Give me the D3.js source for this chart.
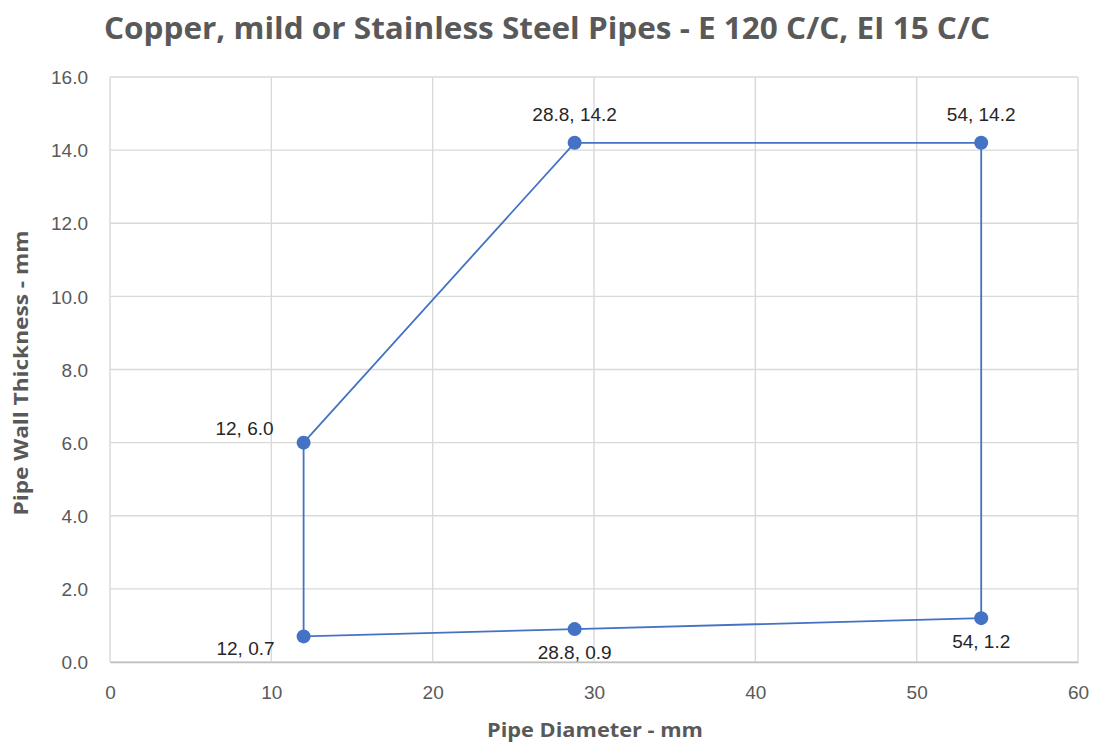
<!DOCTYPE html>
<html><head><meta charset="utf-8">
<script src="https://cdn.jsdelivr.net/npm/d3@7"></script>
<style>body{margin:0;background:#fff;}svg{display:block;}</style>
</head><body>
<svg id="c" width="1095" height="746"></svg>
<script>
const xs = [12, 28.8, 54, 54, 28.8, 12];
const ys = [6.0, 14.2, 14.2, 1.2, 0.9, 0.7];
const labels = ["12, 6.0", "28.8, 14.2", "54, 14.2", "54, 1.2", "28.8, 0.9", "12, 0.7"];
const labelPos = ["leftAbove", "above", "above", "below", "below", "leftBelow"];
const xTicks = [0, 10, 20, 30, 40, 50, 60];
const yTicks = [0, 2, 4, 6, 8, 10, 12, 14, 16];
const title = "Copper, mild or Stainless Steel Pipes - E 120 C/C, EI 15 C/C";

const svg = d3.select("#c");
const m = {l: 110, r: 1078, t: 77, b: 662};
const x = d3.scaleLinear().domain([0, 60]).range([m.l, m.r]);
const y = d3.scaleLinear().domain([0, 16]).range([m.b, m.t]);
const grid = "#d9d9d9", txt = "#595959";

// grid
svg.append("g").selectAll("line").data(yTicks).join("line")
  .attr("x1", m.l).attr("x2", m.r).attr("y1", d => y(d)).attr("y2", d => y(d))
  .attr("stroke", grid).attr("stroke-width", 1.4);
svg.append("g").selectAll("line").data(xTicks).join("line")
  .attr("y1", m.t).attr("y2", m.b).attr("x1", d => x(d)).attr("x2", d => x(d))
  .attr("stroke", grid).attr("stroke-width", 1.4);

// axes labels
const xa = d3.axisBottom(x).tickValues(xTicks).tickSize(0).tickFormat(d3.format("d"));
svg.append("g").attr("transform", `translate(0,${m.b})`).call(xa)
  .call(g => g.select(".domain").attr("stroke", "#bfbfbf").attr("stroke-width", 1.4))
  .call(g => g.selectAll("text").attr("dy", 0).attr("y", 37).attr("fill", txt)
    .style("font-family", "Liberation Sans, Arial, sans-serif").style("font-size", "19px"));
const ya = d3.axisLeft(y).tickValues(yTicks).tickSize(0).tickFormat(d3.format(".1f"));
svg.append("g").attr("transform", `translate(${m.l},0)`).call(ya)
  .call(g => g.select(".domain").remove())
  .call(g => g.selectAll("text").attr("x", -22).attr("dy", "0.35em").attr("fill", txt)
    .style("font-family", "Liberation Sans, Arial, sans-serif").style("font-size", "19px"));

// title
svg.append("text").attr("x", 547).attr("y", 39).attr("text-anchor", "middle")
  .attr("fill", txt).style("font-family", "Open Sans, sans-serif").style("font-weight", "bold")
  .style("font-size", "30px").attr("textLength", 886).attr("lengthAdjust", "spacingAndGlyphs").text(title);
svg.append("text").attr("x", 595).attr("y", 737).attr("text-anchor", "middle")
  .attr("fill", txt).style("font-family", "Open Sans, sans-serif").style("font-weight", "bold")
  .style("font-size", "19.5px").attr("textLength", 216).attr("lengthAdjust", "spacingAndGlyphs").text("Pipe Diameter - mm");
svg.append("text").attr("transform", "translate(28,373) rotate(-90)").attr("text-anchor", "middle")
  .attr("fill", txt).style("font-family", "Open Sans, sans-serif").style("font-weight", "bold")
  .style("font-size", "19.5px").attr("textLength", 285).attr("lengthAdjust", "spacingAndGlyphs").text("Pipe Wall Thickness - mm");

// line
const pts = xs.map((v, i) => [v, ys[i]]);
const line = d3.line().x(d => x(d[0])).y(d => y(d[1])).curve(d3.curveLinearClosed);
svg.append("path").attr("d", line(pts)).attr("fill", "none")
  .attr("stroke", "#4472C4").attr("stroke-width", 1.8);

svg.append("g").selectAll("circle").data(pts).join("circle")
  .attr("cx", d => x(d[0])).attr("cy", d => y(d[1])).attr("r", 7).attr("fill", "#4472C4");

// labels
const off = {
  above: [0, -22, "middle"], below: [0, 30, "middle"],
  leftAbove: [-30, -8, "end"], leftBelow: [-29, 19, "end"]
};
svg.append("g").selectAll("text").data(pts).join("text")
  .attr("x", (d, i) => x(d[0]) + off[labelPos[i]][0])
  .attr("y", (d, i) => y(d[1]) + off[labelPos[i]][1])
  .attr("text-anchor", (d, i) => off[labelPos[i]][2])
  .attr("fill", "#262626").style("font-family", "Liberation Sans, Arial, sans-serif").style("font-size", "19px")
  .text((d, i) => labels[i]);
</script>
</body></html>
